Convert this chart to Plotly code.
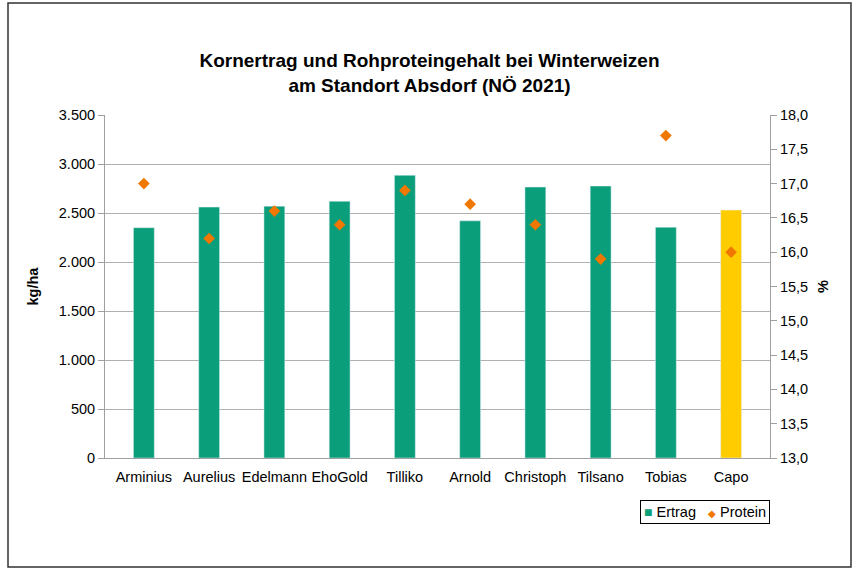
import plotly.graph_objects as go

sorten = ["Arminius", "Aurelius", "Edelmann", "EhoGold", "Tilliko", "Arnold",
          "Christoph", "Tilsano", "Tobias", "Capo"]
ertrag = [2350, 2560, 2570, 2620, 2885, 2420, 2765, 2775, 2355, 2530]
protein = [17.0, 16.2, 16.6, 16.4, 16.9, 16.7, 16.4, 15.9, 17.7, 16.0]
bar_colors = ["#0A9E7A"] * 9 + ["#FFCC00"]

left_vals = [0, 500, 1000, 1500, 2000, 2500, 3000, 3500]
left_text = ["0", "500", "1.000", "1.500", "2.000", "2.500", "3.000", "3.500"]
right_vals = [13.0, 13.5, 14.0, 14.5, 15.0, 15.5, 16.0, 16.5, 17.0, 17.5, 18.0]
right_text = ["13,0", "13,5", "14,0", "14,5", "15,0", "15,5", "16,0", "16,5", "17,0", "17,5", "18,0"]

GREEN, YELLOW, ORANGE = "#0A9E7A", "#FFCC00", "#F07800"

W, H = 859, 569
ml, mr, mt, mb = 105, 89, 115, 111
pw, ph = W - ml - mr, H - mt - mb

fig = go.Figure()
fig.add_trace(go.Bar(x=sorten, y=ertrag, name="Ertrag", marker_color=bar_colors,
                     width=0.32, yaxis="y"))
fig.add_trace(go.Scatter(x=sorten, y=protein, name="Protein", mode="markers",
                         marker=dict(symbol="diamond", size=9, color=ORANGE),
                         yaxis="y2"))

font = "Liberation Sans, Arial, sans-serif"
fs = 14.5
fig.update_layout(
    width=W, height=H,
    margin=dict(l=ml, r=mr, t=mt, b=mb),
    paper_bgcolor="white", plot_bgcolor="white",
    font=dict(family=font, size=fs, color="black"),
    title=dict(text="<b>Kornertrag und Rohproteingehalt bei Winterweizen<br>am Standort Absdorf (NÖ 2021)</b>",
               x=0.5, xanchor="center", y=1 - 67 / H, yanchor="middle",
               font=dict(size=19, family=font)),
    showlegend=False,
    xaxis=dict(showline=True, linecolor="#A0A0A0", linewidth=1,
               ticks="outside", ticklen=6, tickcolor="rgba(0,0,0,0)",
               tickfont=dict(size=fs), showgrid=False),
    yaxis=dict(range=[0, 3500], tickvals=left_vals, ticktext=left_text,
               showgrid=True, gridcolor="#B0B0B0", gridwidth=1,
               showline=True, linecolor="#A0A0A0", ticks="outside", ticklen=6,
               tickcolor="#A0A0A0",
               title=dict(text="<b>kg/ha</b>", font=dict(size=fs), standoff=16)),
    yaxis2=dict(range=[13, 18], tickvals=right_vals, ticktext=right_text,
                overlaying="y", side="right", showgrid=False,
                showline=True, linecolor="#A0A0A0", ticks="outside", ticklen=6,
                tickcolor="#A0A0A0",
                title=dict(text="<b>%</b>", font=dict(size=fs), standoff=10)),
)

# compact legend box like the original
legend_text = (f"<span style='color:{GREEN};font-size:14px'>■</span> Ertrag   "
               f"<span style='color:{ORANGE};font-size:10px'>◆</span> Protein")
fig.add_annotation(xref="paper", yref="paper", x=(770 - ml) / pw, xanchor="right",
                   y=(458 - 512) / ph, yanchor="middle", showarrow=False,
                   text=legend_text, font=dict(size=fs, family=font),
                   bordercolor="black", borderwidth=1, borderpad=3, bgcolor="white")

# outer chart border
fig.add_shape(type="rect", xref="paper", yref="paper",
              x0=(8 - ml) / pw, x1=(851 - ml) / pw,
              y0=(H - mb - 567) / ph, y1=(H - mb - 3) / ph,
              line=dict(color="#333333", width=1.5), fillcolor="rgba(0,0,0,0)",
              layer="below")

fig.write_html("out.html", config={"displayModeBar": False},
               post_script="document.body.style.margin='0';document.body.style.overflow='hidden';")
